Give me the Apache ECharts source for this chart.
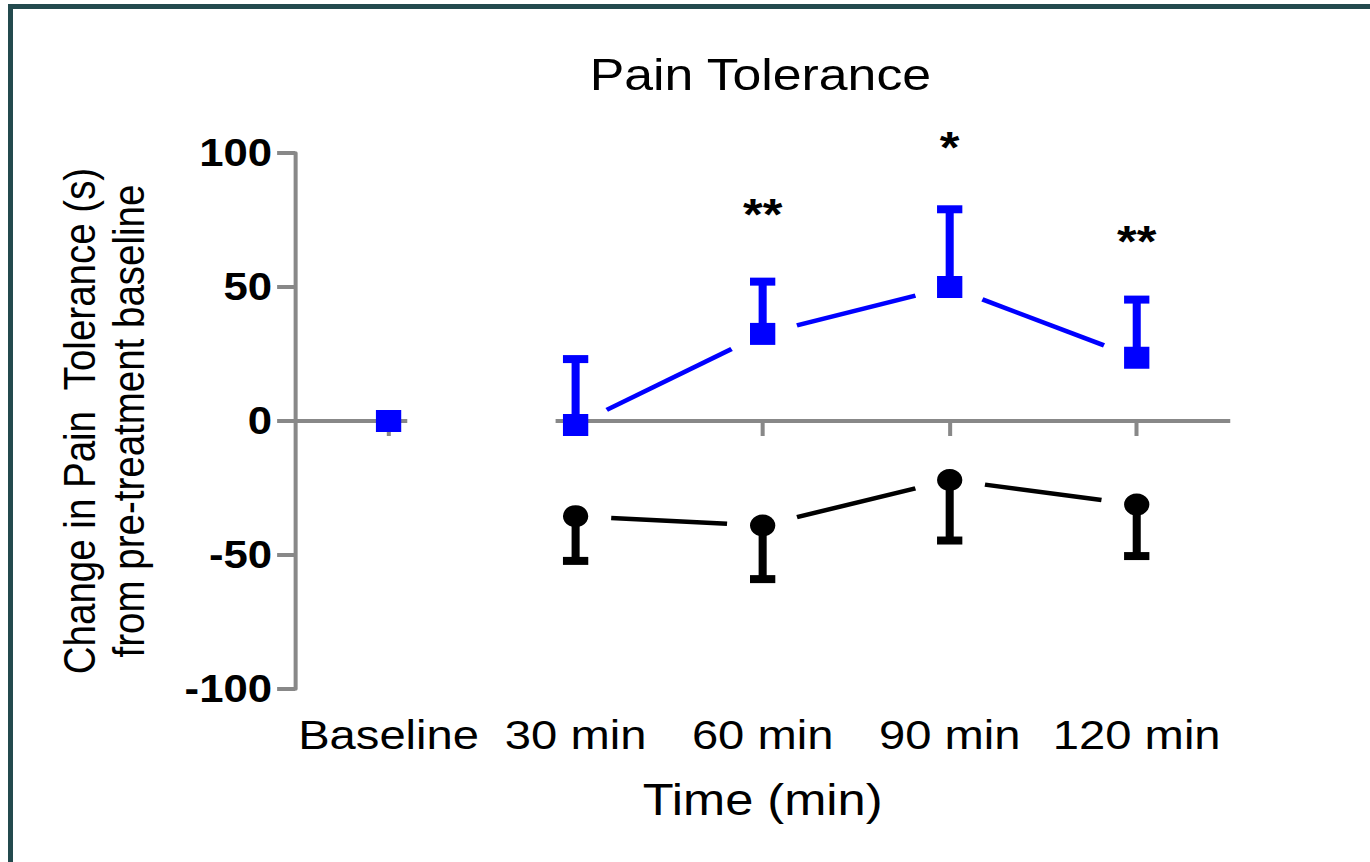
<!DOCTYPE html>
<html>
<head>
<meta charset="utf-8">
<script src="https://cdn.jsdelivr.net/npm/echarts@6/dist/echarts.min.js"></script>
<style>
  html, body { margin: 0; padding: 0; background: #fff; overflow: hidden; }
  #frame { position: absolute; left: 8px; top: 4px; width: 1400px; height: 900px;
           border-left: 5px solid #234a4e; border-top: 5px solid #234a4e; }
  /* the original figure is stretched sideways, so the chart is drawn narrow and widened */
  #main { position: absolute; left: 0; top: 0; width: 1191px; height: 862px;
          transform: scaleX(1.1503); transform-origin: 0 0; }
</style>
</head>
<body>
<div id="frame"></div>
<div id="main"></div>
<script>
const categories = ['Baseline', '30 min', '60 min', '90 min', '120 min']
// treated group (blue squares), error bars drawn upward
const treatMean = [0, -1.5, 32.5, 50, 23.6]
const treatErr = [0, 24.6, 19.5, 29, 21.7]
// control group (black circles), error bars drawn downward
const ctrlMean = [null, -35.5, -39, -22, -31.2]
const ctrlErr = [null, 16.7, 20, 22.6, 19.2]
// significance marks and where they sit
const sigText = ['', '', '**', '*', '**']
const sigPos = [null, null, 77, 102, 67]
const yTicks = [-100, -50, 0, 50, 100]

const FONT = '"Liberation Sans", Arial, Helvetica, sans-serif'
const BLUE = '#0000ff'
const AXIS = '#888888'

const chart = echarts.init(document.getElementById('main'), null, { renderer: 'svg' })

function points(means) {
  const out = []
  means.forEach((m, i) => { if (m != null) out.push([i, m]) })
  return out
}

function bars(means, errs) {
  const out = []
  means.forEach((m, i) => { if (m != null && errs[i]) out.push([i, m, errs[i]]) })
  return out
}

// segments between neighbouring time points (no line from Baseline)
function segments(means) {
  const out = []
  for (let i = 2; i < means.length; i++) {
    if (means[i - 1] != null && means[i] != null) out.push([i - 1, means[i - 1], i, means[i]])
  }
  return out
}

function errorSeries(means, errs, dir, color) {
  return {
    type: 'custom',
    clip: false,
    z: 3,
    encode: { x: 0, y: 1 },
    data: bars(means, errs),
    renderItem: (params, api) => {
      const p0 = api.coord([api.value(0), api.value(1)])
      const p1 = api.coord([api.value(0), api.value(1) + dir * api.value(2)])
      return {
        type: 'group',
        children: [
          { type: 'rect', shape: { x: p0[0] - 3.5, y: Math.min(p0[1], p1[1]), width: 7, height: Math.abs(p1[1] - p0[1]) }, style: { fill: color } },
          { type: 'rect', shape: { x: p1[0] - 11, y: p1[1] - 4, width: 22, height: 8 }, style: { fill: color } }
        ]
      }
    }
  }
}

function lineSeries(means, color) {
  return {
    type: 'custom',
    clip: false,
    z: 2,
    encode: { x: [0, 2], y: [1, 3] },
    data: segments(means),
    renderItem: (params, api) => {
      const a = api.coord([api.value(0), api.value(1)])
      const b = api.coord([api.value(2), api.value(3)])
      const dx = b[0] - a[0], dy = b[1] - a[1]
      const len = Math.sqrt(dx * dx + dy * dy)
      const gap = 31 / len
      return {
        type: 'line',
        shape: { x1: a[0] + dx * gap, y1: a[1] + dy * gap, x2: b[0] - dx * gap, y2: b[1] - dy * gap },
        style: { stroke: color, lineWidth: 4.5 }
      }
    }
  }
}

const option = {
  animation: false,
  backgroundColor: 'transparent',
  title: {
    text: 'Pain Tolerance',
    left: 656,
    top: 47,
    textAlign: 'center',
    textStyle: { fontFamily: FONT, fontSize: 45, fontWeight: 'normal', color: '#000' }
  },
  grid: { left: 256.5, right: 121.5, top: 153, bottom: 173 },
  xAxis: [
    {
      // axis on the zero line: ticks only
      type: 'category',
      data: categories,
      position: 'top',
      boundaryGap: true,
      axisLine: { show: false, onZero: true },
      axisTick: { show: true, alignWithLabel: true, inside: true, length: 15, lineStyle: { color: AXIS, width: 3.5 } },
      axisLabel: { show: false },
      splitLine: { show: false }
    },
    {
      // labels along the bottom
      type: 'category',
      data: categories,
      position: 'bottom',
      boundaryGap: true,
      axisLine: { show: false, onZero: false },
      axisTick: { show: false },
      axisLabel: { show: true, interval: 0, margin: 25, fontFamily: FONT, fontSize: 41, color: '#000' },
      name: 'Time (min)',
      nameLocation: 'middle',
      nameGap: 89,
      nameTextStyle: { fontFamily: FONT, fontSize: 44, color: '#000' },
      splitLine: { show: false }
    }
  ],
  yAxis: {
    type: 'value',
    min: -100,
    max: 100,
    interval: 50,
    axisLine: { show: true, lineStyle: { color: AXIS, width: 3.5 } },
    axisTick: { show: true, length: 15.6, lineStyle: { color: AXIS, width: 4 } },
    axisLabel: {
      margin: 20, fontFamily: FONT, fontSize: 38, fontWeight: 'bold', color: '#000',
      formatter: v => (yTicks.indexOf(v) >= 0 ? String(v) : '')
    },
    splitLine: { show: false },
    name: 'Change in Pain  Tolerance (s)\nfrom pre-treatment baseline',
    nameLocation: 'middle',
    nameGap: 123,
    nameTextStyle: { fontFamily: FONT, fontSize: 38.5, lineHeight: 43, color: '#000' }
  },
  series: [
    lineSeries(treatMean, BLUE),
    lineSeries(ctrlMean, '#000'),
    errorSeries(treatMean, treatErr, 1, BLUE),
    errorSeries(ctrlMean, ctrlErr, -1, '#000'),
    {
      name: 'Treatment',
      type: 'scatter',
      symbol: 'rect',
      symbolSize: 22,
      z: 4,
      itemStyle: { color: BLUE, opacity: 1 },
      emphasis: { disabled: true },
      data: points(treatMean)
    },
    {
      name: 'Control',
      type: 'scatter',
      symbol: 'circle',
      symbolSize: 22,
      z: 4,
      itemStyle: { color: '#000', opacity: 1 },
      emphasis: { disabled: true },
      data: points(ctrlMean)
    },
    {
      type: 'custom',
      clip: false,
      z: 5,
      encode: { x: 0, y: 1 },
      data: points(sigPos).map(p => [p[0], p[1], sigText[p[0]]]),
      renderItem: (params, api) => {
        const p = api.coord([api.value(0), api.value(1)])
        return {
          type: 'text',
          x: p[0],
          y: p[1],
          style: {
            text: sigText[api.value(0)],
            align: 'center',
            verticalAlign: 'middle',
            fontFamily: FONT,
            fontSize: 44,
            fontWeight: 'bold',
            fill: '#000'
          }
        }
      }
    }
  ]
}

chart.setOption(option)

// the zero axis line has a break between Baseline and 30 min
const xBase = chart.convertToPixel({ xAxisIndex: 0 }, 0)
const x30 = chart.convertToPixel({ xAxisIndex: 0 }, 1)
const xLast = chart.convertToPixel({ xAxisIndex: 0 }, categories.length - 1)
const band = x30 - xBase
const yZero = chart.convertToPixel({ yAxisIndex: 0 }, 0)
chart.setOption({
  graphic: [
    { type: 'line', z: 1, shape: { x1: xBase - band / 2, y1: yZero, x2: xBase + band * 0.1, y2: yZero }, style: { stroke: AXIS, lineWidth: 4 } },
    { type: 'line', z: 1, shape: { x1: x30 - band * 0.107, y1: yZero, x2: xLast + band / 2, y2: yZero }, style: { stroke: AXIS, lineWidth: 4 } }
  ]
})
</script>
</body>
</html>
